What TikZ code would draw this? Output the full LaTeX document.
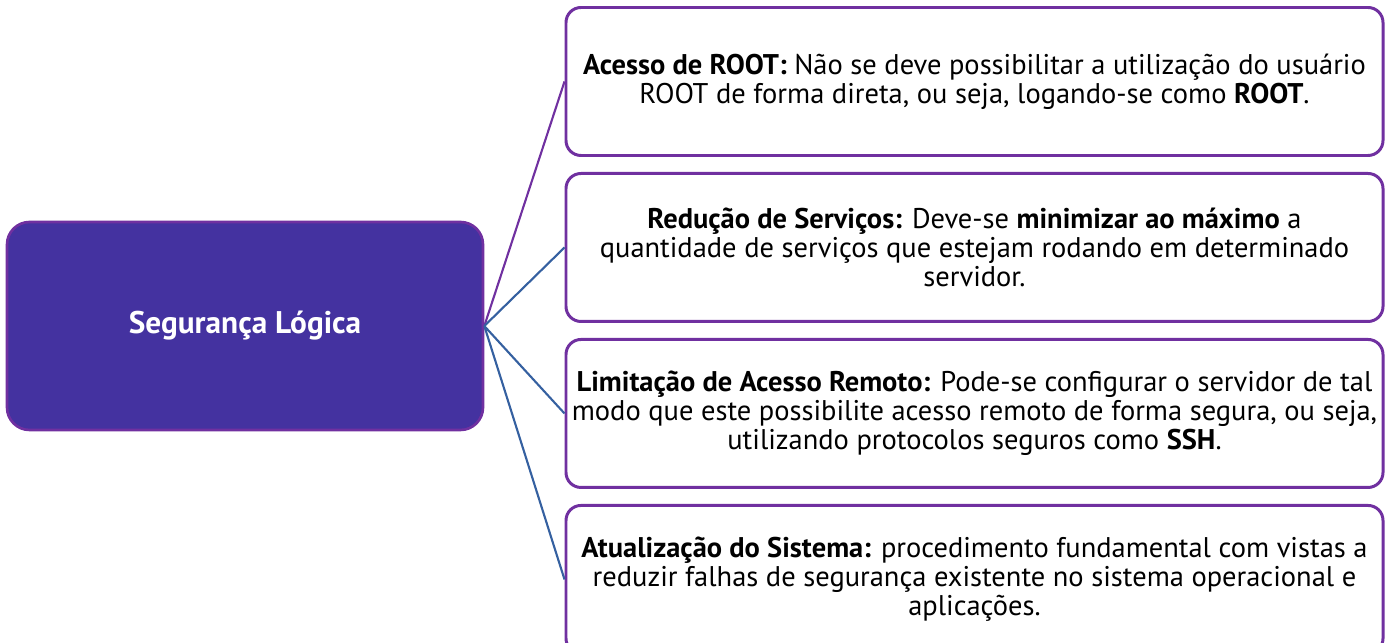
\documentclass[tikz,border=0pt]{standalone}
\usepackage{fontspec}
\setmainfont{PT Sans}
\usepackage{tikz}
\usetikzlibrary{positioning}
\usepackage{xcolor}
\definecolor{mainfill}{HTML}{4432A0}
\definecolor{boxline}{HTML}{7030A0}
\definecolor{linkblue}{HTML}{3560A0}

\begin{document}
\begin{tikzpicture}[
    mainbox/.style={draw=boxline, line width=1.5pt, fill=mainfill, rounded corners=0.45cm,
        minimum width=9.52cm, minimum height=4.16cm, text=white,
        font=\fontsize{17.8}{20}\selectfont\bfseries},
    itembox/.style={draw=boxline, line width=1.7pt, fill=white, rounded corners=0.3cm,
        minimum width=16.34cm, minimum height=2.96cm, align=center,
        font=\fontsize{16.2}{16.6}\selectfont},
    link/.style={line width=1.2pt, draw=linkblue},
    node distance=0.3cm
]
\useasboundingbox (0,0) rectangle (27.76,12.84);

% Central topic
\node[mainbox] (seg) at (4.90,6.32) {Segurança Lógica};

% Items on the right
\node[itembox] (root) at (19.49,11.21) {\textbf{Acesso de ROOT:} Não se deve possibilitar a utilização do usuário\\ROOT de forma direta, ou seja, logando-se como \textbf{ROOT}.};
\node[itembox, below=of root] (serv) {\textbf{Redução de Serviços:} Deve-se \textbf{minimizar ao máximo} a\\quantidade de serviços que estejam rodando em determinado\\servidor.};
\node[itembox, below=of serv] (remoto) {\textbf{Limitação de Acesso Remoto:} Pode-se configurar o servidor de tal\\modo que este possibilite acesso remoto de forma segura, ou seja,\\utilizando protocolos seguros como \textbf{SSH}.};
\node[itembox, below=of remoto] (atual) {\textbf{Atualização do Sistema:} procedimento fundamental com vistas a\\reduzir falhas de segurança existente no sistema operacional e\\aplicações.};

% Connectors
\draw[link, draw=boxline] (seg.east) -- (root.west);
\foreach \n in {serv,remoto,atual} {
    \draw[link] (seg.east) -- (\n.west);
}

\end{tikzpicture}
\end{document}
